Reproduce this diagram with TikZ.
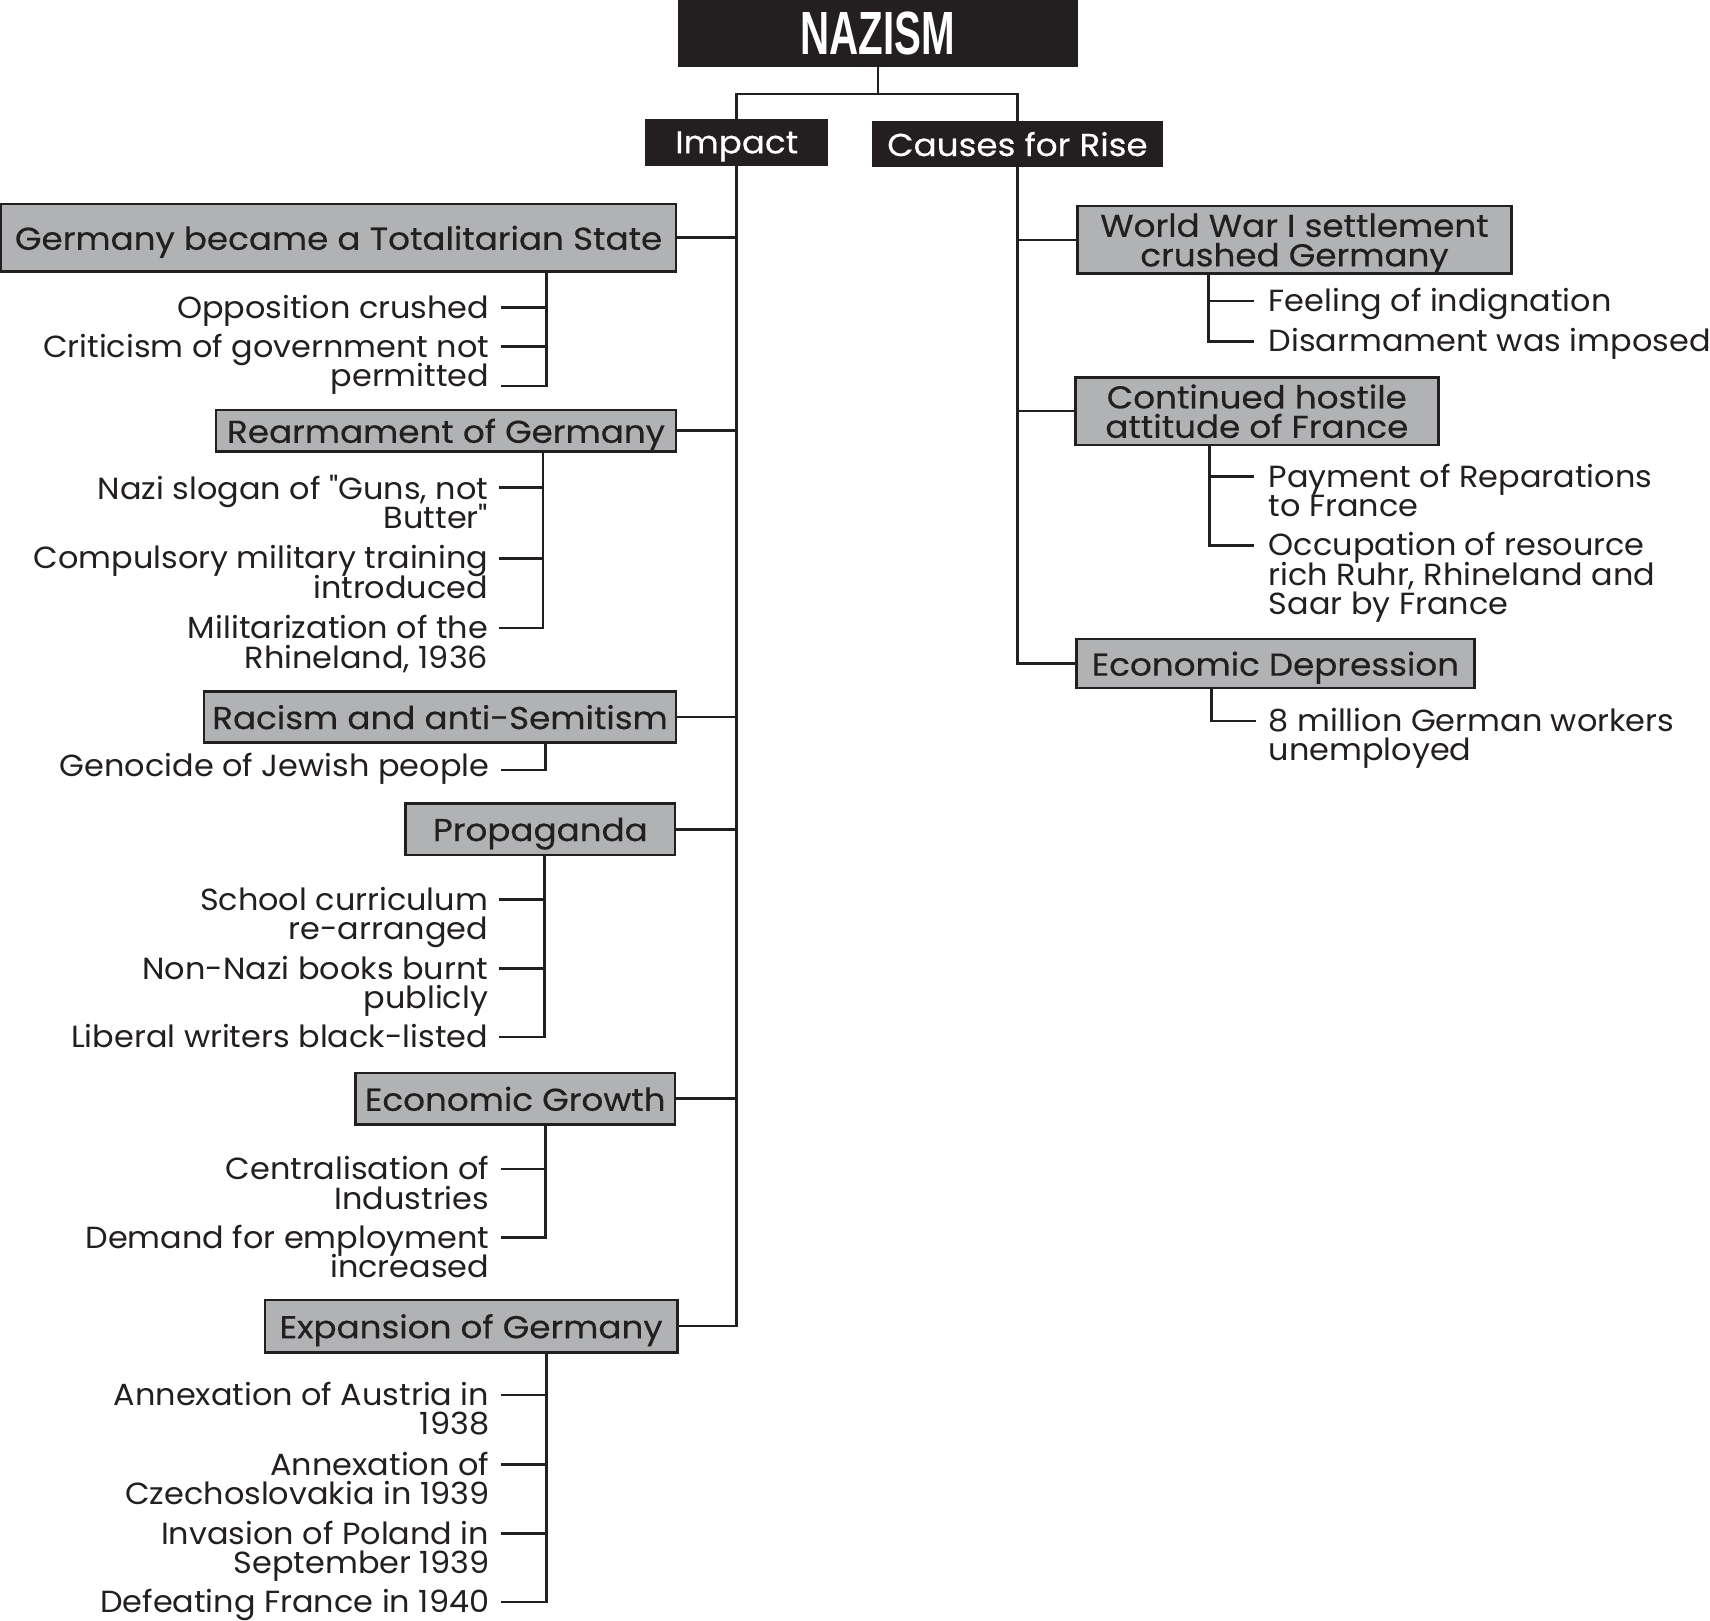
\documentclass[tikz,border=0pt]{standalone}
\usepackage{fontspec}
\setmainfont{Poppins}[Ligatures=TeXOff,FakeStretch=1.045]
\newfontfamily\boxfam{Poppins}[FakeBold=0.4,Ligatures=TeXOff,FakeStretch=1.08]
\newfontfamily\condfam{Liberation Sans Bold}[FakeStretch=0.66]
\usetikzlibrary{calc}
\definecolor{ink}{HTML}{231F20}
\definecolor{boxgray}{HTML}{B1B2B4}
\newcommand\bodyfont{\fontsize{14pt}{13.5pt}\selectfont\lineskiplimit=-50pt\relax}
\newcommand\boxfont{\boxfam\fontsize{14.5pt}{13.5pt}\selectfont\lineskiplimit=-50pt\relax}
\tikzset{
 conn/.style={line width=1.2pt, draw=ink},
 gbox/.style={draw=ink, fill=boxgray, line width=1.2pt, inner sep=0pt, align=center, font=\boxfont, text=ink, text depth=0pt},
 bbox/.style={draw=ink, fill=ink, line width=1.2pt, inner sep=0pt, align=center, font=\boxfont, text=white, text depth=0pt},
 lt/.style={anchor=north east, align=right, inner sep=0pt, font=\bodyfont, text=ink},
 rt/.style={anchor=north west, align=left, inner sep=0pt, font=\bodyfont, text=ink},
}
\begin{document}
\begin{tikzpicture}[x=0.5pt,y=-0.5pt]
\fill[white] (0,0) rectangle (1568,1486);
\useasboundingbox (0,0) rectangle (1568,1486);
% top
\node[bbox, minimum width=182pt, minimum height=30pt, font=\condfam\fontsize{28pt}{30pt}\selectfont] (nazism) at (805,30) {NAZISM};
\node[bbox, minimum width=82.5pt, minimum height=20.5pt] (impact) at (675.5,130.5) {Impact};
\node[bbox, minimum width=132pt, minimum height=20pt] (causes) at (933,132) {Causes for Rise};
\draw[conn] (nazism.south) -- ++(0,25) coordinate (j);
\draw[conn] (impact.north) |- (j) -| (causes.north);
% left main boxes
\node[gbox, minimum width=309.5pt, minimum height=31pt] (tot) at (310.5,218) {Germany became a Totalitarian State};
\node[gbox, minimum width=211pt, minimum height=19pt] (rearm) at (409,395) {Rearmament of Germany};
\node[gbox, minimum width=216.5pt, minimum height=23.5pt] (racism) at (403.5,657.5) {Racism and anti-Semitism};
\node[gbox, minimum width=123.5pt, minimum height=23.5pt] (prop) at (495.5,760.5) {Propaganda};
\node[gbox, minimum width=146.5pt, minimum height=23.5pt] (econ) at (472.5,1007.5) {Economic Growth};
\node[gbox, minimum width=189pt, minimum height=24pt] (expan) at (432,1216) {Expansion of Germany};
\draw[conn] (impact.south) |- (expan.east);
\foreach \b in {tot,rearm,racism,prop,econ} \draw[conn] (\b.east) -- (\b.east -| impact.south);
% right main boxes
\node[gbox, minimum width=199pt, minimum height=31pt] (ww) at (1187,220) {World War I settlement\\crushed Germany};
\node[gbox, minimum width=166.5pt, minimum height=31pt] (hostile) at (1152.5,377) {Continued hostile\\attitude of France};
\node[gbox, minimum width=182.5pt, minimum height=22.5pt] (dep) at (1169.5,608.5) {Economic Depression};
\draw[conn] (causes.south) |- (dep.west);
\foreach \b in {ww,hostile} \draw[conn] (\b.west) -- (\b.west -| causes.south);
% group: totalitarian
\coordinate (vT) at (501,0);
\coordinate (a1) at (459,282); \node[lt] (ta1) at ($(a1)+(-10,-12)$) {Opposition crushed};
\coordinate (a2) at (459,318); \node[lt] (ta2) at ($(a2)+(-10,-12)$) {Criticism of government not\\permitted};
\coordinate (a3) at (459,354);
\draw[conn] (tot.south -| vT) |- (a3);
\foreach \c in {a1,a2} \draw[conn] (\c) -- (\c -| vT);
% group: rearmament
\coordinate (vR) at (498,0);
\coordinate (r1) at (458,447); \node[lt] (tr1) at ($(r1)+(-10,-12)$) {Nazi slogan of "Guns, not\\Butter"};
\coordinate (r2) at (458,512); \node[lt] (tr2) at ($(r2)+(-10,-12)$) {Compulsory military training\\introduced};
\coordinate (r3) at (458,576); \node[lt] (tr3) at ($(r3)+(-10,-12)$) {Militarization of the\\Rhineland, 1936};
\draw[conn] (rearm.south -| vR) |- (r3);
\foreach \c in {r1,r2} \draw[conn] (\c) -- (\c -| vR);
% group: racism
\coordinate (vA) at (500,0);
\coordinate (g1) at (459,706); \node[lt] (tg1) at ($(g1)+(-10,-16)$) {Genocide of Jewish people};
\draw[conn] (racism.south -| vA) |- (g1);
% group: propaganda
\coordinate (vP) at (499,0);
\coordinate (p1) at (458,825); \node[lt] (tp1) at ($(p1)+(-10,-12)$) {School curriculum\\re-arranged};
\coordinate (p2) at (458,888); \node[lt] (tp2) at ($(p2)+(-10,-12)$) {Non-Nazi books burnt\\publicly};
\coordinate (p3) at (458,951); \node[lt] (tp3) at ($(p3)+(-10,-12)$) {Liberal writers black-listed};
\draw[conn] (prop.south -| vP) |- (p3);
\foreach \c in {p1,p2} \draw[conn] (\c) -- (\c -| vP);
% group: economic growth
\coordinate (vE) at (500,0);
\coordinate (e1) at (459,1072); \node[lt] (te1) at ($(e1)+(-10,-12)$) {Centralisation of\\Industries};
\coordinate (e2) at (459,1135); \node[lt] (te2) at ($(e2)+(-10,-12)$) {Demand for employment\\increased};
\draw[conn] (econ.south -| vE) |- (e2);
\draw[conn] (e1) -- (e1 -| vE);
% group: expansion
\coordinate (vX) at (501,0);
\coordinate (x1) at (459,1279); \node[lt] (tx1) at ($(x1)+(-10,-12)$) {Annexation of Austria in\\1938};
\coordinate (x2) at (459,1343); \node[lt] (tx2) at ($(x2)+(-10,-12)$) {Annexation of\\Czechoslovakia in 1939};
\coordinate (x3) at (459,1406); \node[lt] (tx3) at ($(x3)+(-10,-12)$) {Invasion of Poland in\\September 1939};
\coordinate (x4) at (459,1469); \node[lt] (tx4) at ($(x4)+(-10,-12)$) {Defeating France in 1940};
\draw[conn] (expan.south -| vX) |- (x4);
\foreach \c in {x1,x2,x3} \draw[conn] (\c) -- (\c -| vX);
% right group: WWI
\coordinate (vW) at (1108,0);
\coordinate (w1) at (1150,276); \node[rt] (tw1) at ($(w1)+(13,-12)$) {Feeling of indignation};
\coordinate (w2) at (1150,313); \node[rt] (tw2) at ($(w2)+(13,-12)$) {Disarmament was imposed};
\draw[conn] (ww.south -| vW) |- (w2);
\draw[conn] (w1) -- (w1 -| vW);
% right group: hostile
\coordinate (vC) at (1109,0);
\coordinate (c1) at (1150,437); \node[rt] (tc1) at ($(c1)+(13,-12)$) {Payment of Reparations\\to France};
\coordinate (c2) at (1150,500); \node[rt] (tc2) at ($(c2)+(13,-12)$) {Occupation of resource\\rich Ruhr, Rhineland and\\Saar by France};
\draw[conn] (hostile.south -| vC) |- (c2);
\draw[conn] (c1) -- (c1 -| vC);
% right group: depression
\coordinate (vD) at (1111,0);
\coordinate (d1) at (1152,661); \node[rt] (td1) at ($(d1)+(11,-12)$) {8 million German workers\\unemployed};
\draw[conn] (dep.south -| vD) |- (d1);
\end{tikzpicture}
\end{document}
